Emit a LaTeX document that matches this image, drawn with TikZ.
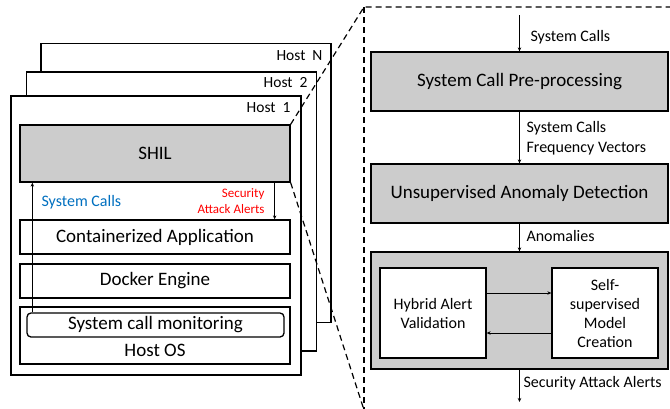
\documentclass[tikz,border=0pt]{standalone}
\usepackage{fontspec}
\setmainfont{Carlito}
\usepackage{tikz}
\usetikzlibrary{arrows.meta,positioning}
\definecolor{boxgray}{RGB}{204, 204, 204}
\definecolor{callblue}{RGB}{0, 112, 192}
\definecolor{alertred}{RGB}{255, 0, 0}

\begin{document}
\begin{tikzpicture}[x=1pt, y=-1pt,
    host/.style={rectangle, draw, line width=1.3pt, fill=white, minimum width=290pt, minimum height=279pt},
    layer/.style={rectangle, draw, line width=1.3pt, minimum width=270pt, inner sep=0pt, font=\fontsize{19}{22}\selectfont},
    stage/.style={rectangle, draw, line width=1.3pt, fill=boxgray, minimum width=297pt, inner sep=0pt, font=\fontsize{19}{22}\selectfont},
    inner/.style={rectangle, draw, line width=1.3pt, fill=white, minimum width=106pt, minimum height=90pt, align=center, inner sep=0pt, font=\fontsize{16}{19}\selectfont},
    lbl/.style={anchor=west, align=left, font=\fontsize{16}{20}\selectfont},
    hostlbl/.style={anchor=east, font=\fontsize{15.5}{18}\selectfont},
    arrow/.style={-{Stealth[length=4pt,width=3.5pt]}, line width=0.9pt},
    zoomline/.style={dashed, dash pattern=on 6pt off 4pt, line width=1.2pt}
]
\useasboundingbox (0,0) rectangle (670,408);

% Host stack
\node[host] (hostN) at (186,183) {};
\node[hostlbl] (hostNlbl) at (326,56) {Host\ \ N};
\node[host] (host2) at (171.5,211.5) {};
\node[hostlbl] (host2lbl) at (311,83) {Host\ \ 2};
\node[host] (host1) at (156,235.5) {};
\node[hostlbl] (host1lbl) at (294,108) {Host\ \ 1};

% Layers inside host 1
\node[layer, fill=boxgray, minimum height=57pt] (shil) at (155,153.5) {SHIL};
\node[layer, minimum height=34pt] (app) at (155,237) {Containerized Application};
\node[layer, minimum height=34pt] (docker) at (155,281) {Docker Engine};
\node[layer, minimum height=57pt] (hostos) at (155,335.5) {};
\node[rectangle, rounded corners=4pt, draw, line width=1.3pt, minimum width=257pt, minimum height=24pt, inner sep=0pt,
      font=\fontsize{19}{22}\selectfont] (monitor) at (155.5,325) {System call monitoring};
\node[font=\fontsize{19}{22}\selectfont] (hostoslbl) at (155,350) {Host OS};

% Calls up, alerts down
\draw[arrow] ([xshift=6pt]monitor.north west) -- ([xshift=6pt]monitor.north west |- shil.south);
\draw[arrow] ([xshift=-16pt]shil.south east) -- ([xshift=-16pt]shil.south east |- app.north);
\node[lbl, text=callblue] (callslbl) at (38,202) {System Calls};
\node[anchor=east, align=right, text=alertred, font=\fontsize{13}{15.5}\selectfont] (alertlbl) at (268,201) {Security\\Attack Alerts};

% Zoom outline
\coordinate (zoomtl) at (364,7);
\coordinate (zoombl) at (364,410);
\coordinate (zoomtr) at (672,7);
\draw[zoomline] (shil.north east) -- (zoomtl) -- (zoomtr);
\draw[zoomline] (zoomtl) -- (zoombl);
\draw[zoomline] (shil.south east) -- (zoombl);

% Pipeline
\node[stage, minimum height=59pt] (pre) at (519.5,81.5) {System Call Pre-processing};
\node[stage, minimum height=59pt] (uad) at (519.5,193.5) {Unsupervised Anomaly Detection};
\node[stage, minimum height=117pt] (outer) at (519.5,310.5) {};
\node[inner] (hybrid) at (433,313) {Hybrid Alert\\Validation};
\node[inner] (selfsup) at (605,313) {Self-\\supervised\\Model\\Creation};

\coordinate (sysin) at (519.5,15);
\coordinate (alertout) at (519.5,402);
\draw[arrow] (sysin) -- (pre.north);
\draw[arrow] (pre.south) -- (uad.north);
\draw[arrow] (uad.south) -- (outer.north);
\draw[arrow] (outer.south) -- (alertout);
\draw[arrow] ([yshift=20pt]hybrid.east) -- ([yshift=20pt]selfsup.west);
\draw[arrow] ([yshift=-20pt]selfsup.west) -- ([yshift=-20pt]hybrid.east);

\node[lbl] (inlbl) at (527,37) {System Calls};
\node[lbl] (veclbl) at (523,138) {System Calls\\Frequency Vectors};
\node[lbl] (anomlbl) at (523,236) {Anomalies};
\node[lbl] (outlbl) at (520,383) {Security Attack Alerts};
\end{tikzpicture}
\end{document}
